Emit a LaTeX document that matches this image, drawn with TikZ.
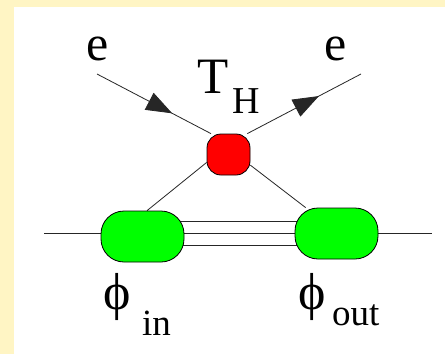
\documentclass[tikz,border=0pt]{standalone}
\usepackage{fontspec}
\setmainfont{Liberation Serif}
\usetikzlibrary{decorations.markings,arrows.meta,backgrounds}
\definecolor{bgyellow}{RGB}{255,245,196}
\definecolor{blobgreen}{RGB}{0,255,0}
\definecolor{blobred}{RGB}{255,0,0}
\begin{document}
\begin{tikzpicture}[x=1pt,y=-1pt,
  lw/.style={line width=0.8pt, draw=black!85},
  blob/.style={draw=black, line width=0.8pt, fill=blobgreen, minimum width=83pt, minimum height=51pt, rounded corners=23pt, inner sep=0pt},
  vertex/.style={draw=black, line width=0.8pt, fill=blobred, minimum width=43pt, minimum height=41pt, rounded corners=14pt, inner sep=0pt},
  lbl/.style={inner sep=0pt, anchor=base west},
  big/.style={font=\fontsize{50}{50}\selectfont},
  phisize/.style={font=\fontsize{52}{52}\selectfont},
  small/.style={font=\fontsize{37}{37}\selectfont},
  fermion/.style={lw, postaction={decorate}, decoration={markings, mark=at position #1 with {\arrow{Triangle[length=26pt,width=19pt]}}}}
]
\useasboundingbox (0,0) rectangle (445,354);
\begin{scope}[on background layer]
  \fill[bgyellow] (0,0) rectangle (445,354);
  \fill[white] (14,7) rectangle (445,354);
\end{scope}

% nodes
\node[vertex] (red) at (228.5,154.5) {};
\node[blob] (gL) at (142.5,236.5) {};
\node[blob] (gR) at (336.5,233.5) {};

\coordinate (eA) at (97,74);
\coordinate (eB) at (361,74);
\coordinate (lineL) at (44,233);
\coordinate (lineR) at (432,233);
\coordinate (dT) at (0,221);
\coordinate (dB) at (0,245);

% labels
\node[lbl, big] (eIn) at (86,60) {e};
\node[lbl, big] (eOut) at (324,60) {e};
\node[lbl, font=\fontsize{51}{51}\selectfont] (T) at (197,93) {T};
\node[lbl, font=\fontsize{38}{38}\selectfont] (H) at (232,113) {H};
\node[lbl, phisize] (phiIn) at (103,309) {\symbol{"03D5}};
\node[lbl, small] (in) at (142,335) {in};
\node[lbl, phisize] (phiOut) at (298,309) {\symbol{"03D5}};
\node[lbl, small] (out) at (332,325) {out};

% connectors
\begin{scope}[on background layer]
  \draw[fermion=0.66] (eA) -- (red.130);
  \draw[fermion=0.63] (red.48) -- (eB);
  \draw[lw] (red.200) -- (gL.80);
  \draw[lw] (red.334) -- (gR.140);
  \draw[lw] (lineL) -- (lineR);
  \draw[lw] (gL |- dT) -- (gR |- dT);
  \draw[lw] (gL |- dB) -- (gR |- dB);
\end{scope}
\end{tikzpicture}
\end{document}
